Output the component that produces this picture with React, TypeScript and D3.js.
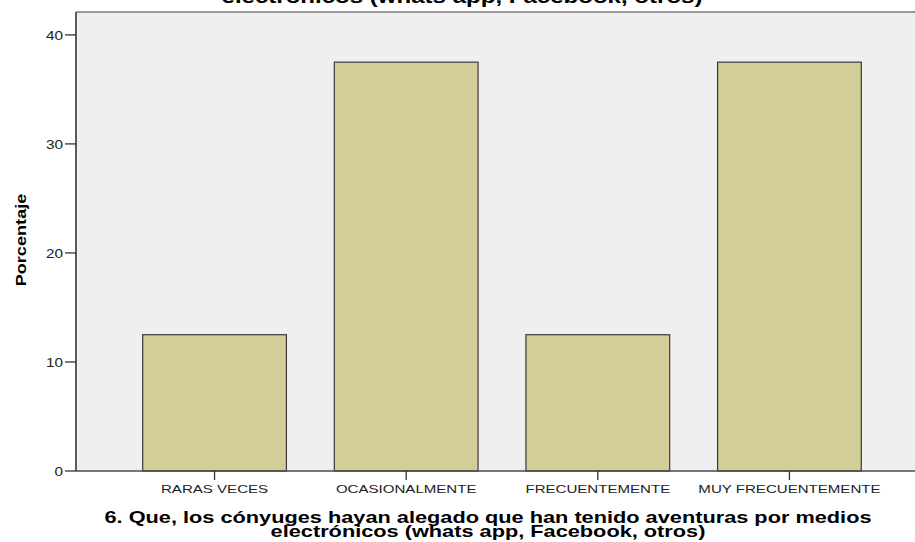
import React from "react";
import * as d3 from "d3";

const categories = ["RARAS VECES", "OCASIONALMENTE", "FRECUENTEMENTE", "MUY FRECUENTEMENTE"];
const percents = [12.5, 37.5, 12.5, 37.5];
const yTicks = [0, 10, 20, 30, 40];
const topTitle = "electrónicos (whats app, Facebook, otros)";
const xTitleLines = [
  "6. Que, los cónyuges hayan alegado que han tenido aventuras por medios",
  "electrónicos (whats app, Facebook, otros)",
];
const yTitle = "Porcentaje";

const W = 915;
const H = 542;
const plot = { left: 76, right: 928, top: 12, bottom: 471 };
const FONT = "'Liberation Sans', Arial, sans-serif";

function SText({ x, y, sx = 1, anchor = "middle", size, weight = "normal", rotate = 0, fill = "#000", children }: any) {
  return (
    <text
      transform={`translate(${x},${y}) rotate(${rotate}) scale(${sx},1)`}
      textAnchor={anchor}
      fontSize={size}
      fontWeight={weight}
      fontFamily={FONT}
      fill={fill}
    >
      {children}
    </text>
  );
}

export default function App() {
  const y = d3.scaleLinear().domain([0, 42.1]).range([plot.bottom, plot.top]);
  const x = d3
    .scaleBand<string>()
    .domain(categories)
    .range([plot.left, plot.right])
    .paddingInner(0.25)
    .paddingOuter(0.348);

  return (
    <>
      <style>{`body{margin:0;}`}</style>
      <svg width={W} height={H} style={{ display: "block", background: "#fff" }}>
        <rect x={plot.left} y={plot.top} width={plot.right - plot.left} height={plot.bottom - plot.top} fill="#efefef" />
        <line x1={plot.left} x2={plot.right} y1={plot.top} y2={plot.top} stroke="#7a7a7a" strokeWidth={1.5} />

        {categories.map((c, i) => (
          <rect
            key={c}
            x={x(c)!}
            y={y(percents[i])}
            width={x.bandwidth()}
            height={y(0) - y(percents[i])}
            fill="#d3ce97"
            stroke="#3a3a3a"
            strokeWidth={1.2}
          />
        ))}

        <line x1={plot.left} x2={plot.left} y1={plot.top} y2={plot.bottom} stroke="#4a4a4a" strokeWidth={1.8} />
        <line x1={plot.left} x2={plot.right} y1={plot.bottom} y2={plot.bottom} stroke="#4a4a4a" strokeWidth={1.5} />

        {yTicks.map((t) => (
          <g key={t}>
            <line x1={plot.left - 11} x2={plot.left} y1={y(t)} y2={y(t)} stroke="#333" strokeWidth={1.3} />
            <SText x={plot.left - 13} y={y(t) + 4.7} anchor="end" size={13} sx={1.18} fill="#222">
              {t}
            </SText>
          </g>
        ))}

        {categories.map((c) => {
          const cx = x(c)! + x.bandwidth() / 2;
          return (
            <g key={c}>
              <line x1={cx} x2={cx} y1={plot.bottom} y2={plot.bottom + 9} stroke="#333" strokeWidth={1.3} />
              <SText x={cx} y={493} size={11.6} sx={1.3} fill="#222">
                {c}
              </SText>
            </g>
          );
        })}

        <SText x={462} y={2.5} size={18} sx={1.336} weight="bold">
          {topTitle}
        </SText>

        {xTitleLines.map((l, i) => (
          <SText key={i} x={488} y={523 + i * 13.5} size={16} sx={1.36} weight="bold">
            {l}
          </SText>
        ))}

        <SText x={26} y={240} rotate={-90} size={15.5} sx={1.17} weight="bold">
          {yTitle}
        </SText>
      </svg>
    </>
  );
}
